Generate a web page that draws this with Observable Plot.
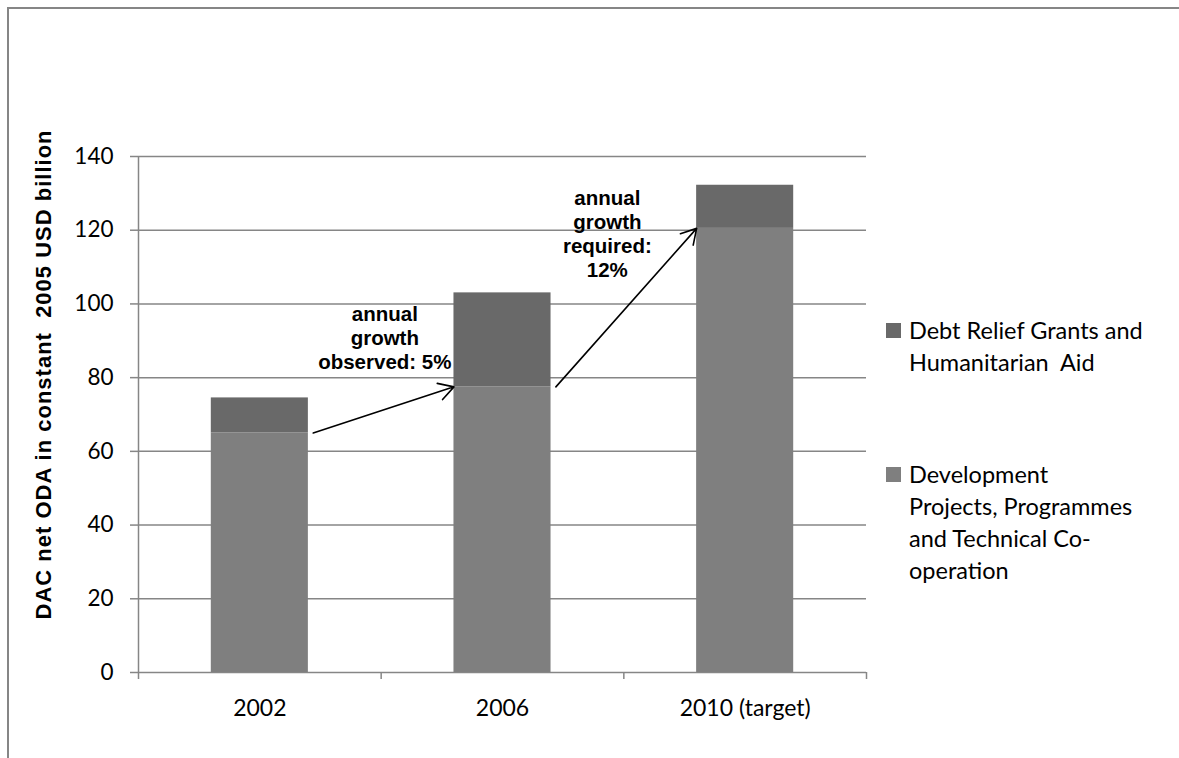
<!DOCTYPE html>
<html><head><meta charset="utf-8">
<script src="https://cdn.jsdelivr.net/npm/d3@7"></script>
<script src="https://cdn.jsdelivr.net/npm/@observablehq/plot@0.6"></script>
<style>
body{margin:0;background:#fff;}
#wrap{position:relative;width:1179px;height:758px;overflow:hidden;background:#fff;}
#border{position:absolute;left:7px;top:7px;width:1400px;height:1000px;border-top:2px solid #868686;border-left:2px solid #868686;}
#chart{position:absolute;left:0;top:0;}
.lg{position:absolute;left:886px;font-family:Lato,sans-serif;font-size:23.5px;line-height:32px;color:#000;}
.lg .sw{position:absolute;left:0;top:9px;width:15px;height:15px;}
.lg .tx{position:absolute;left:23px;top:0;white-space:nowrap;}
</style></head>
<body><div id="wrap"><div id="border"></div><div id="chart"></div>
<div class="lg" style="top:314px"><div class="sw" style="background:#696969"></div><div class="tx">Debt Relief Grants and<br>Humanitarian&nbsp; Aid</div></div>
<div class="lg" style="top:458px"><div class="sw" style="background:#7f7f7f"></div><div class="tx">Development<br>Projects, Programmes<br>and Technical Co-<br>operation</div></div>
</div>
<script>
const categories = ["2002", "2006", "2010 (target)"];
const devValues = [65, 77.5, 120.5];
const debtValues = [9.5, 25.5, 11.7];
const seriesNames = ["Debt Relief Grants and Humanitarian Aid", "Development Projects, Programmes and Technical Co-operation"];
const yTicks = [0, 20, 40, 60, 80, 100, 120, 140];
const yTitle = "DAC net ODA in constant  2005 USD billion";
const annotationTexts = ["annual\ngrowth\nobserved: 5%", "annual\ngrowth\nrequired:\n12%"];
// arrows: from category index / value to category index / value
const arrowFromIdx = [0, 1];
const arrowFromVal = [65, 77.5];
const arrowToIdx = [1, 2];
const arrowToVal = [77.5, 120.5];

const half = 0.2; // half bar width in category units
const colors = {[seriesNames[0]]: "#696969", [seriesNames[1]]: "#7f7f7f"};

const rows = [];
categories.forEach((c, i) => {
  rows.push({i, series: seriesNames[1], y1: 0, y2: devValues[i]});
  rows.push({i, series: seriesNames[0], y1: devValues[i], y2: devValues[i] + debtValues[i]});
});
const arrows = arrowFromIdx.map((f, k) => ({
  x1: f + half + 0.02, y1: arrowFromVal[k], x2: arrowToIdx[k] - half, y2: arrowToVal[k]
}));
const annos = [
  {x: 0.515, y: 90.9, text: annotationTexts[0]},
  {x: 1.432, y: 119.2, text: annotationTexts[1]}
];

const gridColor = "#868686";
const chart = Plot.plot({
  width: 1179, height: 758,
  marginLeft: 138, marginRight: 313, marginTop: 156, marginBottom: 86,
  style: {fontFamily: "Lato, sans-serif", background: "transparent"},
  x: {type: "linear", domain: [-0.5, 2.5], axis: null},
  y: {type: "linear", domain: [0, 140], axis: null},
  marks: [
    Plot.ruleY(yTicks, {y: d => d, stroke: gridColor, strokeWidth: 1.5, strokeOpacity: 1}),
    Plot.rectY(rows, {x1: d => d.i - half, x2: d => d.i + half, y1: "y1", y2: "y2", fill: d => colors[d.series]}),
    Plot.ruleX([-0.5], {x: d => d, stroke: gridColor, strokeWidth: 1.5}),
    Plot.axisY({ticks: yTicks, tickSize: 8, tickPadding: 17, stroke: gridColor, strokeWidth: 1.5, strokeOpacity: 1, fontSize: 22.5, fill: "#000", tickFormat: d => String(d)}),
    Plot.axisX({ticks: [-0.5, 0.5, 1.5, 2.5], tickSize: 7, tickFormat: () => "", stroke: gridColor, strokeWidth: 1.5, strokeOpacity: 1}),
    Plot.axisX({ticks: [0, 1, 2], tickSize: 0, tickPadding: 27, fontSize: 23, fill: "#000", tickFormat: i => categories[i]}),
    Plot.arrow(arrows, {x1: "x1", y1: "y1", x2: "x2", y2: "y2", stroke: "#000", strokeWidth: 1.6, headLength: 16, headAngle: 60}),
    Plot.text(annos, {x: "x", y: "y", text: "text", fontFamily: "Liberation Sans, Arial, sans-serif", fontWeight: "bold", fontSize: 20.5, lineHeight: 1.17, fill: "#000"}),
    Plot.text([yTitle], {text: d => d, frameAnchor: "left", textAnchor: "middle", rotate: -90, dx: -95, dy: -40, fontFamily: "Liberation Sans, Arial, sans-serif", fontWeight: "bold", fontSize: 22, fill: "#000"})
  ]
});
chart.querySelectorAll("text").forEach(t => { if (t.textContent === yTitle) t.setAttribute("letter-spacing", "1"); });
document.getElementById("chart").appendChild(chart);
</script></body></html>
